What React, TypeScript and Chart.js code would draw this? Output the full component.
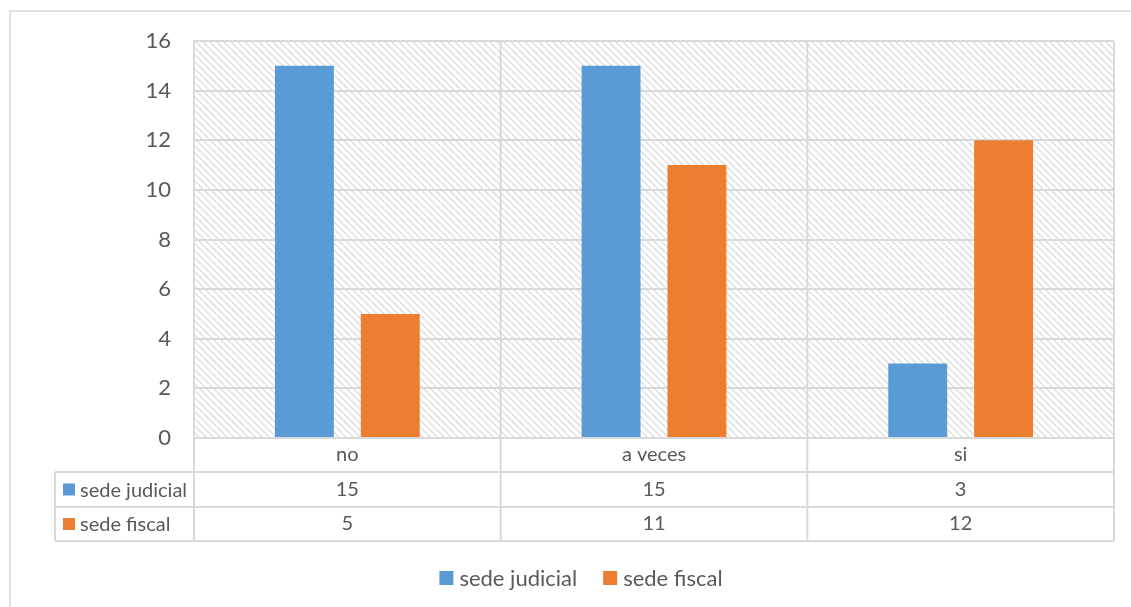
import React, { useEffect, useRef } from "react";
import { Chart, registerables } from "chart.js";

Chart.register(...registerables);

const categories = ["no", "a veces", "si"];
const seriesNames = ["sede judicial", "sede fiscal"];
const judicialValues = [15, 15, 3];
const fiscalValues = [5, 11, 12];
const seriesColors = ["#5B9BD5", "#ED7D31"];
const yMin = 0;
const yMax = 16;
const yStep = 2;

const FONT = "Lato, 'Open Sans', sans-serif";
const TEXT = "#595959";
const GRID = "#D9D9D9";

function makePattern(ctx: CanvasRenderingContext2D) {
  const c = document.createElement("canvas");
  const s = 7;
  c.width = s;
  c.height = s;
  const p = c.getContext("2d")!;
  p.fillStyle = "#ffffff";
  p.fillRect(0, 0, s, s);
  p.strokeStyle = "#DEDEDE";
  p.lineWidth = 1.5;
  p.beginPath();
  for (let k = -1; k <= 1; k++) {
    p.moveTo(k * s, 0);
    p.lineTo(k * s + s, s);
  }
  p.stroke();
  return ctx.createPattern(c, "repeat");
}

const tablePlugin = {
  id: "tablePlugin",
  beforeDraw(chart: any) {
    const { ctx, chartArea } = chart;
    ctx.save();
    ctx.fillStyle = "#ffffff";
    ctx.fillRect(0, 0, chart.width, chart.height);
    ctx.strokeStyle = GRID;
    ctx.lineWidth = 1.5;
    ctx.beginPath();
    ctx.moveTo(10, chart.height);
    ctx.lineTo(10, 11);
    ctx.lineTo(chart.width, 11);
    ctx.stroke();
    const pat = makePattern(ctx);
    if (pat) {
      ctx.fillStyle = pat;
      ctx.fillRect(chartArea.left, chartArea.top, chartArea.right - chartArea.left, chartArea.bottom - chartArea.top);
    }
    ctx.restore();
  },
  beforeDatasetsDraw(chart: any) {
    const { ctx, chartArea, scales } = chart;
    const x = scales.x;
    const n = categories.length;
    const half = (x.getPixelForValue(1) - x.getPixelForValue(0)) / 2;
    const row0 = chartArea.bottom;
    const row1 = row0 + 34;
    const row2 = row1 + 35;
    const row3 = row2 + 34;
    const tableLeft = 55;
    ctx.save();
    ctx.strokeStyle = GRID;
    ctx.lineWidth = 2;
    ctx.beginPath();
    for (let i = 0; i <= n; i++) {
      const bx = i < n ? x.getPixelForValue(i) - half : x.getPixelForValue(n - 1) + half;
      ctx.moveTo(bx, chartArea.top);
      ctx.lineTo(bx, row3);
    }
    ctx.moveTo(tableLeft, row1);
    ctx.lineTo(tableLeft, row3);
    const right = x.getPixelForValue(n - 1) + half;
    ctx.moveTo(chartArea.left, row0);
    ctx.lineTo(right, row0);
    for (const ry of [row1, row2, row3]) {
      ctx.moveTo(tableLeft, ry);
      ctx.lineTo(right, ry);
    }
    ctx.stroke();

    ctx.fillStyle = TEXT;
    ctx.font = "20px " + FONT;
    ctx.textAlign = "center";
    ctx.textBaseline = "middle";
    const rows = [judicialValues, fiscalValues];
    for (let i = 0; i < n; i++) {
      const cx = x.getPixelForValue(i);
      ctx.fillText(categories[i], cx, (row0 + row1) / 2);
      ctx.fillText(String(rows[0][i]), cx, (row1 + row2) / 2);
      ctx.fillText(String(rows[1][i]), cx, (row2 + row3) / 2);
    }
    ctx.textAlign = "left";
    const rys = [(row1 + row2) / 2, (row2 + row3) / 2];
    for (let r = 0; r < 2; r++) {
      ctx.fillStyle = seriesColors[r];
      ctx.fillRect(63, rys[r] - 6, 12, 12);
      ctx.fillStyle = TEXT;
      ctx.fillText(seriesNames[r], 80, rys[r] + 1);
    }

    ctx.font = "22px " + FONT;
    const box = 14;
    const gapBoxText = 6;
    const gapItems = 26;
    const widths = seriesNames.map((s) => ctx.measureText(s).width);
    const total = widths.reduce((a, w) => a + box + gapBoxText + w, 0) + gapItems;
    let lx = 581 - total / 2;
    const ly = 578;
    for (let r = 0; r < 2; r++) {
      ctx.fillStyle = seriesColors[r];
      ctx.fillRect(lx, ly - box / 2, box, box);
      ctx.fillStyle = TEXT;
      ctx.fillText(seriesNames[r], lx + box + gapBoxText, ly + 1);
      lx += box + gapBoxText + widths[r] + gapItems;
    }
    ctx.restore();
  },
};

export default function App() {
  const ref = useRef<HTMLCanvasElement | null>(null);
  useEffect(() => {
    if (!ref.current) return;
    const chart = new Chart(ref.current, {
      type: "bar",
      data: {
        labels: categories,
        datasets: [
          {
            label: seriesNames[0],
            data: judicialValues,
            backgroundColor: seriesColors[0],
            categoryPercentage: 0.56,
            barPercentage: 0.686,
          },
          {
            label: seriesNames[1],
            data: fiscalValues,
            backgroundColor: seriesColors[1],
            categoryPercentage: 0.56,
            barPercentage: 0.686,
          },
        ],
      },
      options: {
        responsive: false,
        animation: false,
        layout: { padding: { left: 0, top: 41, right: 17, bottom: 169 } },
        plugins: { legend: { display: false }, tooltip: { enabled: false } },
        scales: {
          x: { display: false },
          y: {
            min: yMin,
            max: yMax,
            ticks: { stepSize: yStep, padding: 23, color: TEXT, font: { family: FONT, size: 22 } },
            grid: { color: GRID, lineWidth: 2, drawTicks: false },
            border: { display: true, color: GRID, width: 2 },
            afterFit: (s: any) => {
              s.width = 194;
            },
          },
        },
      },
      plugins: [tablePlugin],
    });
    return () => chart.destroy();
  }, []);
  return (
    <div style={{ position: "absolute", left: 0, top: 0, width: 1131, height: 607 }}>
      <canvas ref={ref} width={1131} height={607} />
    </div>
  );
}
